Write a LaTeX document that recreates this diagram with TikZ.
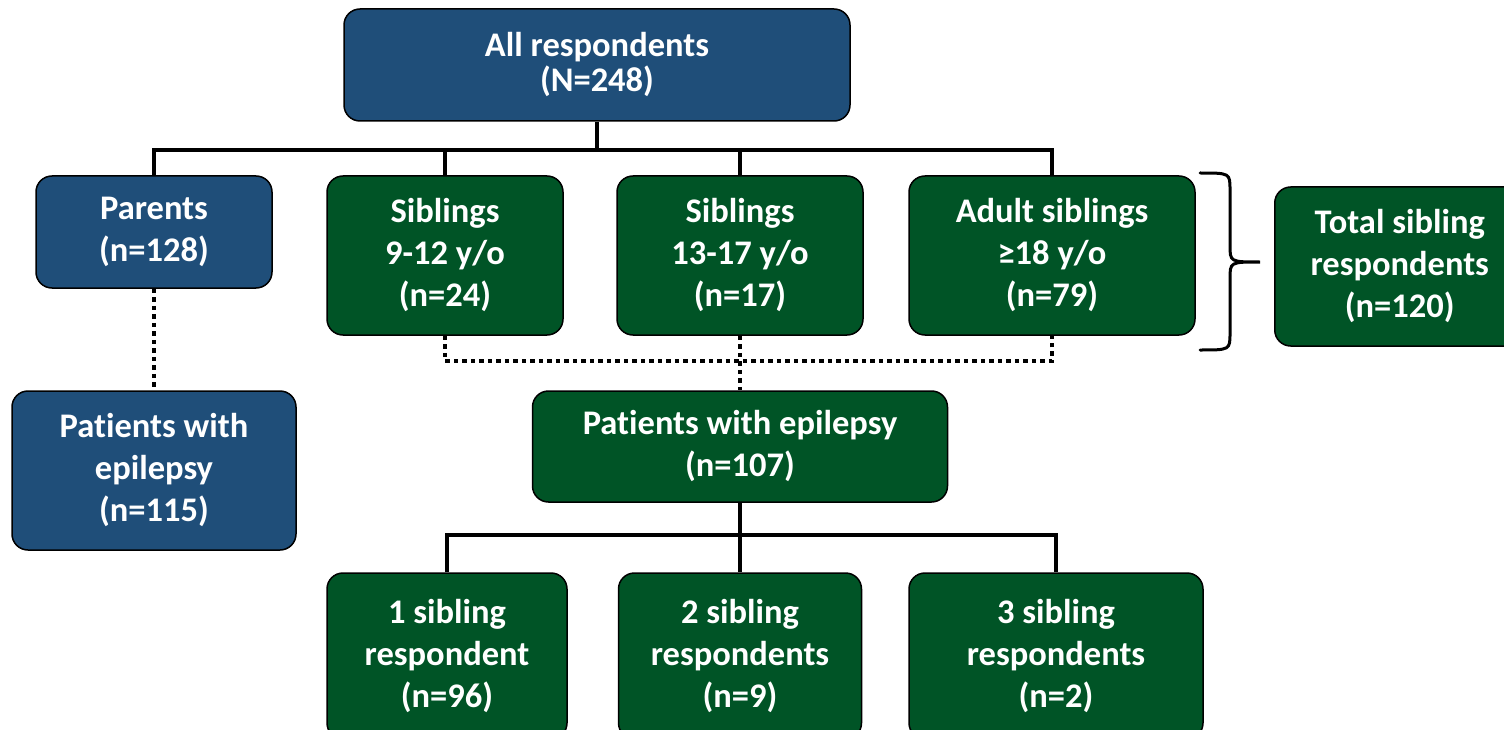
\documentclass[tikz,border=0pt]{standalone}
\usepackage{fontspec}
\setmainfont[Ligatures=NoCommon]{Carlito}
\definecolor{myblue}{RGB}{31,78,121}
\definecolor{mygreen}{RGB}{0,84,38}
\begin{document}
\begin{tikzpicture}[x=1pt,y=-1pt,
  box/.style={draw=black, line width=1.5pt, rounded corners=16pt, text=white,
    font=\bfseries\fontsize{34.5}{42}\selectfont, align=center, inner sep=0pt},
  bluebox/.style={box, fill=myblue},
  greenbox/.style={box, fill=mygreen},
  conn/.style={line width=4pt, draw=black},
  dotline/.style={line width=4.5pt, draw=black, dash pattern=on 4.5pt off 4pt}]
\useasboundingbox (0,0) rectangle (1504,730);
\clip (0,0) rectangle (1504,730);
\node[bluebox, minimum width=506pt, minimum height=112pt, font=\bfseries\fontsize{34.5}{35}\selectfont] (all) at (597,65) {All respondents\\(N=248)};
\node[bluebox, minimum width=236pt, minimum height=112pt] (par) at (154,232) {Parents\\(n=128)};
\node[greenbox, minimum width=236pt, minimum height=159pt] (s1) at (445,255.5) {Siblings\\9-12 y/o\\(n=24)};
\node[greenbox, minimum width=246pt, minimum height=159pt] (s2) at (740,255.5) {Siblings\\13-17 y/o\\(n=17)};
\node[greenbox, minimum width=286pt, minimum height=159pt] (s3) at (1052,255.5) {Adult siblings\\≥18 y/o\\(n=79)};
\node[greenbox, minimum width=250pt, minimum height=159pt, anchor=west] (tot) at (1274,266.5) {Total sibling\\respondents\\(n=120)};
\node[bluebox, minimum width=284pt, minimum height=159pt] (patb) at (154,470.5) {Patients with\\epilepsy\\(n=115)};
\node[greenbox, minimum width=415pt, minimum height=111pt] (patg) at (740,446.5) {Patients with epilepsy\\(n=107)};
\node[greenbox, minimum width=240pt, minimum height=166pt] (b1) at (447,656) {1 sibling\\respondent\\(n=96)};
\node[greenbox, minimum width=243pt, minimum height=166pt] (b2) at (740,656) {2 sibling\\respondents\\(n=9)};
\node[greenbox, minimum width=294pt, minimum height=166pt] (b3) at (1056,656) {3 sibling\\respondents\\(n=2)};
% top tree
\coordinate (j) at (597,150);
\draw[conn] (all.south) -- (j);
\draw[conn] (par.north) -- (par.north |- j) -- (s3.north |- j) -- (s3.north);
\draw[conn] (s1.north) -- (s1.north |- j);
\draw[conn] (s2.north) -- (s2.north |- j);
% dotted
\draw[dotline] (par.south) -- (patb.north);
\coordinate (d) at (740,361);
\draw[dotline] (s1.south) -- (s1.south |- d) -- (s3.south |- d) -- (s3.south);
\draw[dotline] (s2.south) -- (patg.north);
% bottom tree
\coordinate (k) at (740,535);
\draw[conn] (patg.south) -- (k);
\draw[conn] (b1.north) -- (b1.north |- k) -- (b3.north |- k) -- (b3.north);
\draw[conn] (b2.north) -- (b2.north |- k);
% brace
\draw[line width=3pt, line cap=round] (1200,173) .. controls (1230,173) .. (1230,190) -- (1230,245)
  .. controls (1230,262) .. (1260,262) .. controls (1230,262) .. (1230,279) -- (1230,333)
  .. controls (1230,350) .. (1200,350);
\end{tikzpicture}
\end{document}
